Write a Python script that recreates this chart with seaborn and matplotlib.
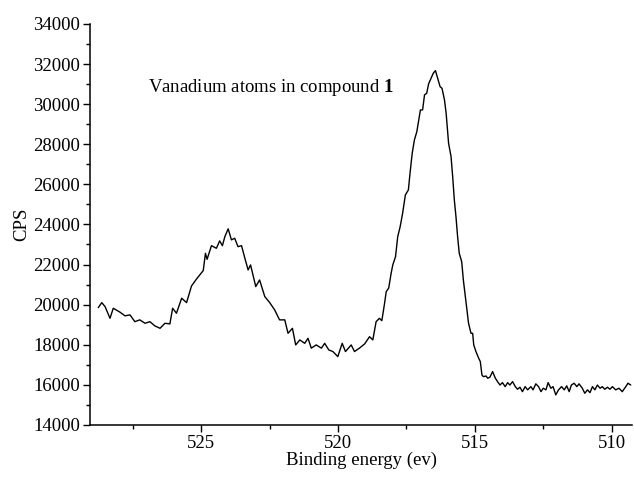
import numpy as np
import pandas as pd
import matplotlib
matplotlib.use("Agg")
import matplotlib.pyplot as plt
import seaborn as sns
from matplotlib.ticker import MultipleLocator

# V 2p spectrum (binding energy in eV, counts per second)
energy = [
    528.77, 528.64, 528.52, 528.34, 528.22, 527.97, 527.79, 527.61, 527.43, 527.25,
    527.06, 526.88, 526.70, 526.51, 526.33, 526.15, 526.05, 525.91, 525.72, 525.54,
    525.36, 525.18, 524.93, 524.85, 524.79, 524.63, 524.45, 524.33, 524.23, 524.14,
    524.02, 523.90, 523.78, 523.66, 523.53, 523.41, 523.29, 523.20, 523.01, 522.87,
    522.68, 522.50, 522.32, 522.14, 521.95, 521.83, 521.67, 521.55, 521.40, 521.22,
    521.10, 520.98, 520.80, 520.61, 520.49, 520.34, 520.19, 520.01, 519.85, 519.73,
    519.52, 519.40, 519.22, 519.03, 518.85, 518.73, 518.61, 518.49, 518.40, 518.30,
    518.24, 518.15, 518.06, 518.00, 517.90, 517.82, 517.73, 517.64, 517.54, 517.43,
    517.37, 517.29, 517.21, 517.12, 517.05, 516.99, 516.91, 516.84, 516.76, 516.69,
    516.60, 516.52, 516.44, 516.36, 516.27, 516.20, 516.11, 516.05, 515.96, 515.87,
    515.81, 515.75, 515.69, 515.63, 515.57, 515.48, 515.42, 515.32, 515.23, 515.14,
    515.08, 515.04, 514.96, 514.86, 514.80, 514.74, 514.69, 514.59, 514.53, 514.45,
    514.35, 514.25, 514.17, 514.08, 513.99, 513.89, 513.80, 513.72, 513.62, 513.52,
    513.44, 513.35, 513.26, 513.16, 513.07, 512.95, 512.87, 512.77, 512.67, 512.58,
    512.50, 512.40, 512.32, 512.22, 512.14, 512.04, 511.94, 511.83, 511.73, 511.64,
    511.55, 511.47, 511.37, 511.27, 511.19, 511.07, 510.98, 510.88, 510.79, 510.70,
    510.61, 510.52, 510.42, 510.34, 510.25, 510.15, 510.06, 509.97, 509.85, 509.73,
    509.61, 509.48, 509.40, 509.30,
]
cps = [
    19850, 20100, 19900, 19320, 19820, 19620, 19440, 19490, 19150, 19240,
    19070, 19150, 18940, 18820, 19070, 19040, 19820, 19570, 20320, 20100,
    20930, 21270, 21700, 22560, 22260, 22940, 22810, 23180, 22940, 23390,
    23780, 23230, 23310, 22890, 22940, 22320, 21730, 21980, 20900, 21230,
    20400, 20100, 19740, 19240, 19240, 18570, 18820, 17990, 18240, 18070,
    18320, 17830, 17990, 17830, 18070, 17740, 17660, 17410, 18070, 17660,
    17990, 17660, 17830, 18040, 18400, 18240, 19150, 19320, 19200, 20070,
    20650, 20820, 21570, 21980, 22390, 23390, 23890, 24560, 25470, 25720,
    26550, 27550, 28210, 28630, 29210, 29710, 29710, 30460, 30540, 31010,
    31290, 31540, 31670, 31290, 30870, 30790, 30210, 29550, 28050, 27380,
    26380, 25220, 24390, 23390, 22560, 22140, 21230, 20070, 19070, 18570,
    18570, 17990, 17660, 17330, 17160, 16490, 16410, 16440, 16330, 16380,
    16660, 16330, 16160, 15990, 16110, 15910, 16110, 15990, 16160, 15910,
    15780, 15880, 15660, 15910, 15750, 15910, 15750, 16050, 15910, 15660,
    15830, 15750, 16110, 15830, 15910, 15500, 15750, 15910, 15750, 15950,
    15660, 15990, 16080, 15910, 16050, 15830, 15580, 15750, 15610, 15910,
    15750, 15990, 15830, 15910, 15780, 15880, 15780, 15910, 15750, 15830,
    15660, 15910, 16080, 15990,
]

df = pd.DataFrame({"energy": energy, "cps": cps})

sns.set_style("ticks")
plt.rcParams["font.family"] = ["Liberation Serif", "DejaVu Serif"]
plt.rcParams["text.color"] = "black"
plt.rcParams["axes.labelcolor"] = "black"
plt.rcParams["mathtext.fontset"] = "custom"
plt.rcParams["mathtext.rm"] = "Liberation Serif"
plt.rcParams["mathtext.bf"] = "Liberation Serif:bold"

fig = plt.figure(figsize=(6.34, 4.78), dpi=100)
ax = fig.add_axes([0.142, 0.111, 0.855, 0.839])

sns.lineplot(data=df, x="energy", y="cps", sort=False, color="black",
             linewidth=1.0, ax=ax)

ax.set_xlim(529.07, 509.25)
ax.set_ylim(14000, 34000)
ax.xaxis.set_major_locator(MultipleLocator(5))
ax.xaxis.set_minor_locator(MultipleLocator(2.5))
ax.yaxis.set_major_locator(MultipleLocator(2000))
ax.yaxis.set_minor_locator(MultipleLocator(1000))
ax.tick_params(which="major", direction="out", length=5, width=1,
               labelsize=13.5, colors="black", labelcolor="black", pad=2)
ax.tick_params(which="minor", direction="out", length=3, width=1, colors="black")

for s in ["top", "right"]:
    ax.spines[s].set_visible(False)
for s in ["left", "bottom"]:
    ax.spines[s].set_linewidth(1.1)
    ax.spines[s].set_color("black")

ax.set_xlabel("Binding energy (ev)", fontsize=13.5, labelpad=0, color="black")
ax.set_ylabel("CPS", fontsize=13.5, labelpad=2, color="black")

ax.text(526.95, 30850, r"Vanadium atoms in compound $\mathbf{1}$",
        fontsize=13.5, va="center", ha="left", color="black")

fig.savefig("out.png", dpi=100)
